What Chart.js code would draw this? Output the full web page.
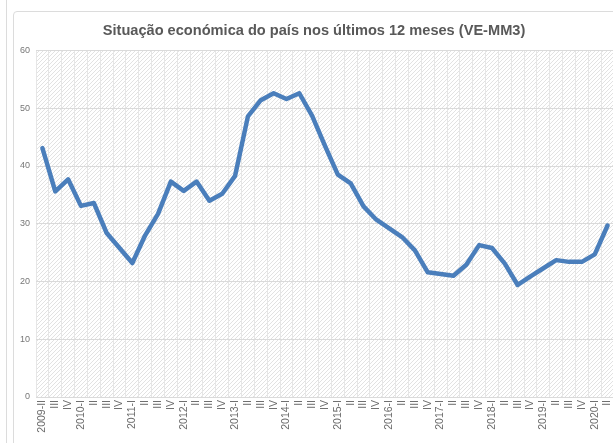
<!DOCTYPE html>
<html lang="pt">
<head>
<meta charset="utf-8">
<title>Situação económica do país</title>
<script src="https://cdn.jsdelivr.net/npm/chart.js@4"></script>
<style>
  html, body { margin: 0; background: #fff; overflow: hidden; }
  #page { position: relative; width: 613px; height: 443px; overflow: hidden; }
  #rule { position: absolute; left: 6px; top: 0; height: 443px; border-left: 1px solid #dcdcdc; }
  #box { position: absolute; left: 13px; top: 11px; width: 640px; height: 470px; border: 1px solid #dcdcdc; border-radius: 4px; }
  #c { position: absolute; left: 14px; top: 12px; }
</style>
</head>
<body>
<div id="page">
  <div id="rule"></div>
  <div id="box"></div>
  <canvas id="c" width="610" height="431"></canvas>
</div>
<script>
const TITLE = 'Situação económica do país nos últimos 12 meses (VE-MM3)';

// trimestres 2009-II .. 2020-II
const periods = [
  '2009-II', 'III', 'IV',
  '2010-I', 'II', 'III', 'IV',
  '2011-I', 'II', 'III', 'IV',
  '2012-I', 'II', 'III', 'IV',
  '2013-I', 'II', 'III', 'IV',
  '2014-I', 'II', 'III', 'IV',
  '2015-I', 'II', 'III', 'IV',
  '2016-I', 'II', 'III', 'IV',
  '2017-I', 'II', 'III', 'IV',
  '2018-I', 'II', 'III', 'IV',
  '2019-I', 'II', 'III', 'IV',
  '2020-I', 'II',
];

const values = [
  43.1, 35.6, 37.7,
  33.1, 33.6, 28.4, 25.8,
  23.2, 28.0, 31.7, 37.3,
  35.7, 37.3, 34.0, 35.2,
  38.3, 48.6, 51.4, 52.6,
  51.6, 52.6, 48.7, 43.5,
  38.5, 37.0, 33.0, 30.7,
  29.2, 27.7, 25.4, 21.6,
  21.3, 21.0, 22.9, 26.3,
  25.8, 23.1, 19.4, 20.9,
  22.3, 23.7, 23.4, 23.4,
  24.7, 29.7,
];

const yTicks = { min: 0, max: 60, step: 10 };

const FONT = 'Arial, "Liberation Sans", sans-serif';

// fundo tracejado da área do gráfico
function hatch() {
  const p = document.createElement('canvas');
  p.width = 4; p.height = 4;
  const g = p.getContext('2d');
  g.fillStyle = '#ffffff';
  g.fillRect(0, 0, 4, 4);
  g.strokeStyle = '#e2e2e2';
  g.lineWidth = 1;
  g.beginPath();
  g.moveTo(0, 4); g.lineTo(4, 0);
  g.moveTo(-1, 1); g.lineTo(1, -1);
  g.moveTo(3, 5); g.lineTo(5, 3);
  g.stroke();
  return p;
}

const plotBg = {
  id: 'plotBg',
  beforeDraw(chart) {
    const { ctx, chartArea: a } = chart;
    ctx.save();
    ctx.fillStyle = ctx.createPattern(hatch(), 'repeat');
    ctx.fillRect(a.left, a.top, a.right - a.left, a.bottom - a.top);
    ctx.restore();
  },
};

new Chart(document.getElementById('c'), {
  type: 'line',
  data: {
    labels: periods,
    datasets: [{
      data: values,
      borderColor: '#4a7ebb',
      borderWidth: 4.5,
      pointRadius: 0,
      tension: 0,
      borderJoinStyle: 'round',
      borderCapStyle: 'round',
    }],
  },
  options: {
    responsive: false,
    animation: false,
    layout: { padding: { left: 0, right: 10, top: 0, bottom: 0 } },
    plugins: {
      legend: { display: false },
      tooltip: { enabled: false },
      title: {
        display: true,
        text: TITLE,
        color: '#595959',
        font: { family: FONT, size: 14.6, weight: 'bold' },
        padding: { top: 10, bottom: 11 },
      },
    },
    scales: {
      x: {
        offset: true,
        grid: { offset: true, color: '#e6e6e6', drawTicks: false },
        border: { display: false },
        ticks: {
          autoSkip: false, minRotation: 90, maxRotation: 90,
          color: '#6a6a6a', padding: 3,
          font: { family: FONT, size: 10.5 },
        },
        afterFit: (s) => { s.height = 46; },
      },
      y: {
        min: yTicks.min, max: yTicks.max,
        grid: { color: '#dadada', drawTicks: false },
        border: { display: false },
        ticks: {
          stepSize: yTicks.step, color: '#777', padding: 6,
          font: { family: FONT, size: 9 },
        },
        afterFit: (s) => { s.width = 22; },
      },
    },
  },
  plugins: [plotBg],
});
</script>
</body>
</html>
